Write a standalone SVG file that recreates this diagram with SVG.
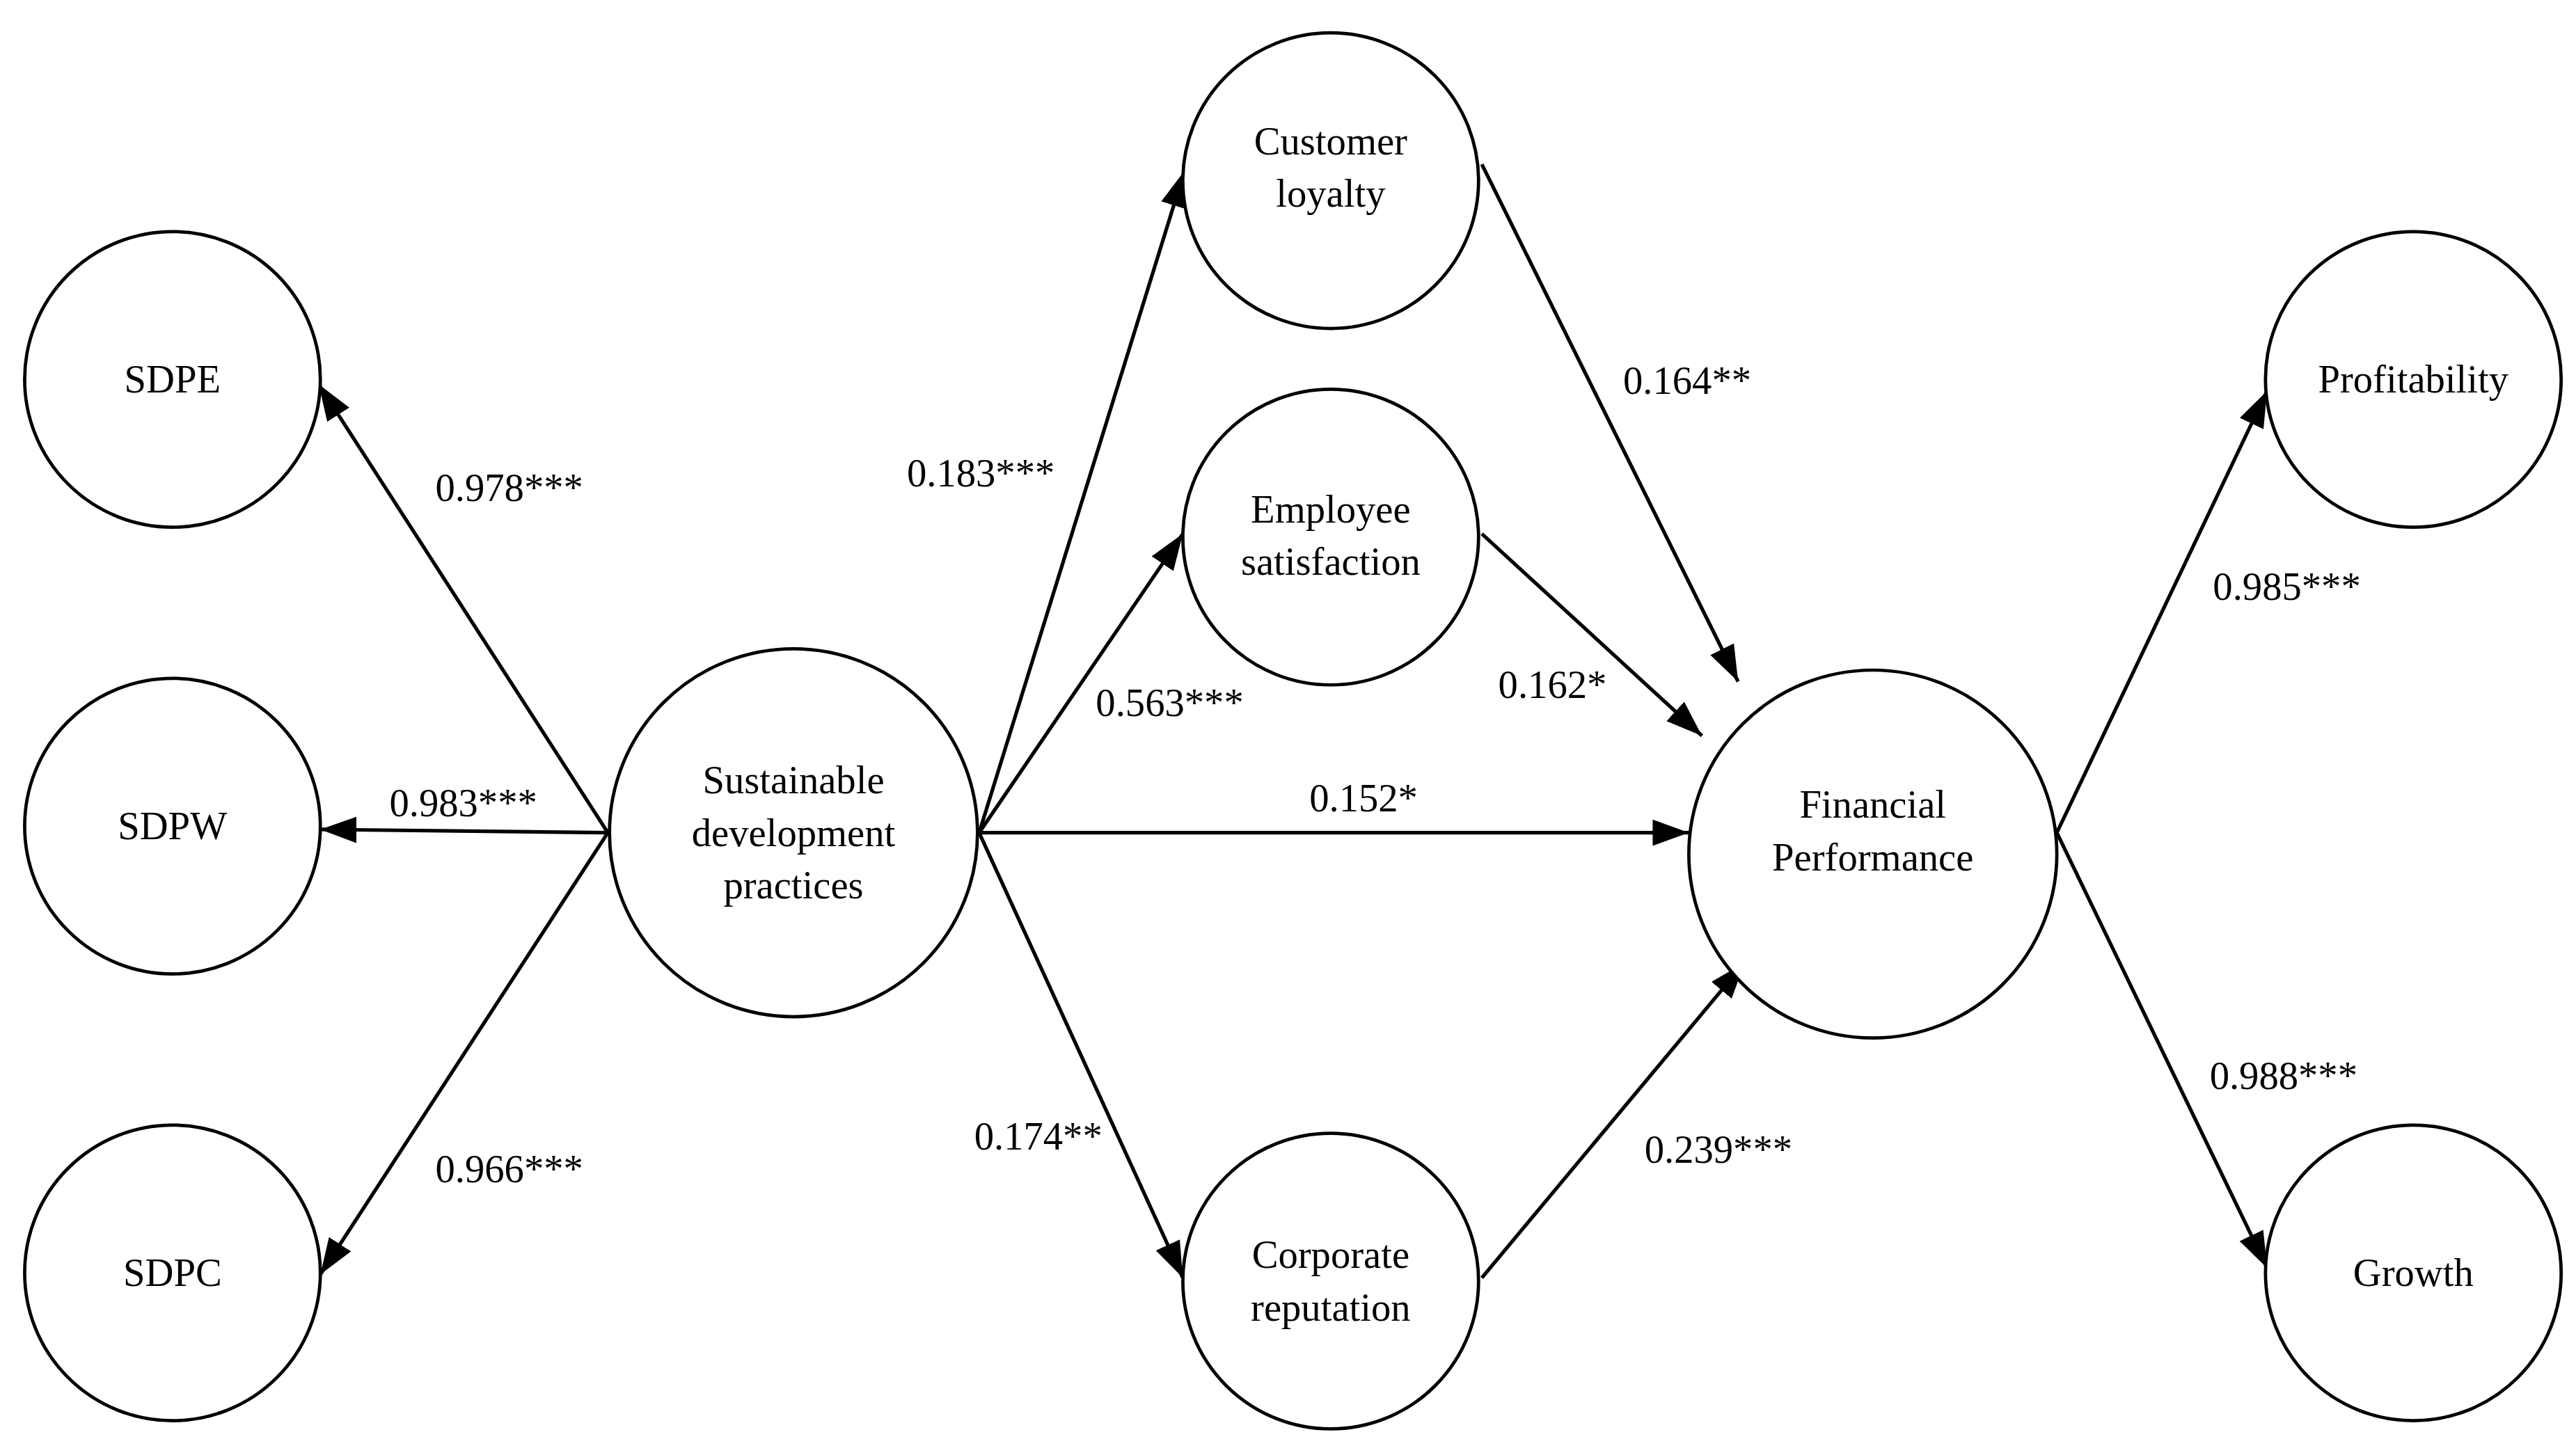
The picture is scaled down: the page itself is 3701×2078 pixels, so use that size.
<svg xmlns="http://www.w3.org/2000/svg" width="3701" height="2078" viewBox="0 0 3701 2078">
<style>
circle{fill:#fff;stroke:#000;stroke-width:2}
text{font-family:"Liberation Serif",serif;font-size:24px;text-anchor:middle;fill:#000}
.c line{stroke:#000;stroke-width:2.2;marker-end:url(#a)}
</style>
<defs><marker id="a" viewBox="0 0 11 8" refX="11" refY="4" markerWidth="10" markerHeight="7.5" orient="auto" markerUnits="strokeWidth"><path d="M0,0L11,4L0,8z" fill="#000"/></marker></defs>
<rect width="3701" height="2078" fill="#fff"/>
<g transform="scale(2.3603)">
<g class="c">
<line x1="370" y1="507" x2="194" y2="234"/>
<line x1="370" y1="507" x2="195" y2="505"/>
<line x1="370" y1="507" x2="195" y2="776"/>
<line x1="596" y1="507" x2="721" y2="104"/>
<line x1="596" y1="507" x2="720" y2="325"/>
<line x1="596" y1="507" x2="1028" y2="507"/>
<line x1="596" y1="507" x2="720" y2="778"/>
<line x1="902" y1="100" x2="1058" y2="415"/>
<line x1="902" y1="325" x2="1036" y2="448"/>
<line x1="902" y1="778" x2="1062" y2="586"/>
<line x1="1252" y1="507" x2="1380" y2="238"/>
<line x1="1252" y1="507" x2="1380" y2="772"/>
</g>
<g id="sdpe"><circle cx="105" cy="231" r="90"/><text x="105" y="239">SDPE</text></g>
<g id="sdpw"><circle cx="105" cy="503" r="90"/><text x="105" y="511">SDPW</text></g>
<g id="sdpc"><circle cx="105" cy="775" r="90"/><text x="105" y="783">SDPC</text></g>
<g id="sdp"><circle cx="483" cy="507" r="112"/><text x="483" y="483">Sustainable</text><text x="483" y="515">development</text><text x="483" y="547">practices</text></g>
<g id="cl"><circle cx="810" cy="110" r="90"/><text x="810" y="94">Customer</text><text x="810" y="126">loyalty</text></g>
<g id="es"><circle cx="810" cy="327" r="90"/><text x="810" y="318">Employee</text><text x="810" y="350">satisfaction</text></g>
<g id="cr"><circle cx="810" cy="780" r="90"/><text x="810" y="772">Corporate</text><text x="810" y="804">reputation</text></g>
<g id="fp"><circle cx="1140" cy="520" r="112"/><text x="1140" y="498">Financial</text><text x="1140" y="530">Performance</text></g>
<g id="pr"><circle cx="1469" cy="231" r="90"/><text x="1469" y="239">Profitability</text></g>
<g id="gr"><circle cx="1469" cy="775" r="90"/><text x="1469" y="783">Growth</text></g>
<g id="labels">
<text x="310" y="305">0.978***</text>
<text x="282" y="497">0.983***</text>
<text x="310" y="720">0.966***</text>
<text x="597" y="296">0.183***</text>
<text x="712" y="436">0.563***</text>
<text x="830" y="494">0.152*</text>
<text x="632" y="700">0.174**</text>
<text x="1027" y="240">0.164**</text>
<text x="945" y="425">0.162*</text>
<text x="1046" y="708">0.239***</text>
<text x="1392" y="365">0.985***</text>
<text x="1390" y="663">0.988***</text>
</g>
</g>
</svg>
